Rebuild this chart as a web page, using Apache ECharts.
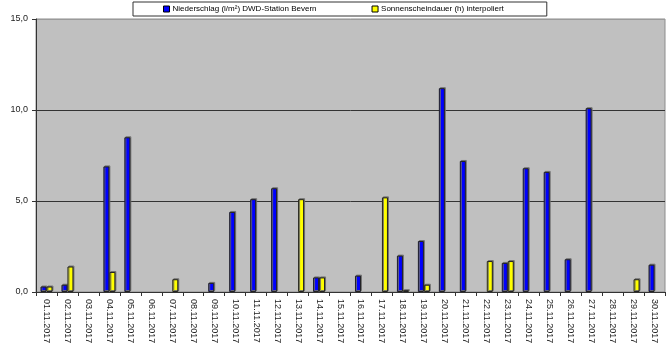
<!DOCTYPE html>
<html>
<head>
<meta charset="utf-8">
<script src="https://cdn.jsdelivr.net/npm/echarts@6/dist/echarts.min.js"></script>
<style>
html,body{margin:0;padding:0;background:#fff;}
#chart{width:671px;height:349px;}
</style>
</head>
<body>
<div id="chart"></div>
<script>
const categories = ['01.11.2017','02.11.2017','03.11.2017','04.11.2017','05.11.2017','06.11.2017','07.11.2017','08.11.2017','09.11.2017','10.11.2017','11.11.2017','12.11.2017','13.11.2017','14.11.2017','15.11.2017','16.11.2017','17.11.2017','18.11.2017','19.11.2017','20.11.2017','21.11.2017','22.11.2017','23.11.2017','24.11.2017','25.11.2017','26.11.2017','27.11.2017','28.11.2017','29.11.2017','30.11.2017'];
const niederschlag = [0.3,0.4,0,6.9,8.5,0,0,0,0.5,4.4,5.1,5.7,0,0.8,0,0.9,0,2.0,2.8,11.2,7.2,0,1.6,6.8,6.6,1.8,10.1,0,0,1.5];
const sonnenschein = [0.3,1.4,0,1.1,0,0,0.7,0,0,0,0,0,5.1,0.8,0,0,5.2,0.1,0.4,0,0,1.7,1.7,0,0,0,0,0,0.7,0];
const seriesNames = ['Niederschlag (l/m²) DWD-Station Bevern','Sonnenscheindauer (h) interpoliert'];
const yTickLabels = {0:'0,0',5:'5,0',10:'10,0',15:'15,0'};

const toBars = arr => arr.map(v => v === 0 ? '-' : v);

const chart = echarts.init(document.getElementById('chart'), null, {renderer:'canvas'});
const barStyle = (c) => ({color:c, borderColor:'#222', borderWidth:1, shadowColor:'rgba(110,110,110,0.9)', shadowOffsetX:1, shadowOffsetY:-1, shadowBlur:0});
chart.setOption({
  animation:false,
  textStyle:{fontFamily:'Liberation Sans, Arial, sans-serif'},
  legend:{
    data:seriesNames,
    left:133, top:2,
    padding:[3,43,3,30],
    itemGap:55,
    itemWidth:6, itemHeight:6,
    icon:'rect',
    borderColor:'#333', borderWidth:1,
    backgroundColor:'#fff',
    textStyle:{fontSize:8, color:'#000', padding:[0,0,0,-2]},
    itemStyle:{borderColor:'#000', borderWidth:1}
  },
  grid:{left:36, right:6, top:19, bottom:57, show:true, backgroundColor:'#C0C0C0', borderColor:'#8c8c8c', borderWidth:1},
  xAxis:{
    type:'category',
    data:categories,
    axisLine:{lineStyle:{color:'#333', width:1}},
    axisTick:{show:true, length:4, interval:0, lineStyle:{color:'#333'}},
    axisLabel:{interval:0, rotate:-90, fontSize:9, color:'#222', margin:7}
  },
  yAxis:{
    type:'value', min:0, max:15, interval:5,
    axisLine:{show:true, lineStyle:{color:'#333'}},
    axisTick:{show:true, length:4, lineStyle:{color:'#333'}},
    axisLabel:{fontSize:9, color:'#222', margin:8, formatter: v => yTickLabels[v]},
    splitLine:{show:true, lineStyle:{color:['#333','#333','#333','#9a9a9a'], width:1}}
  },
  series:[
    {name:seriesNames[0], type:'bar', data:toBars(niederschlag), barWidth:6, barGap:'0%', itemStyle:barStyle('#0000FF')},
    {name:seriesNames[1], type:'bar', data:toBars(sonnenschein), barWidth:6, barGap:'0%', itemStyle:barStyle('#FFFF00')}
  ]
});
</script>
</body>
</html>
